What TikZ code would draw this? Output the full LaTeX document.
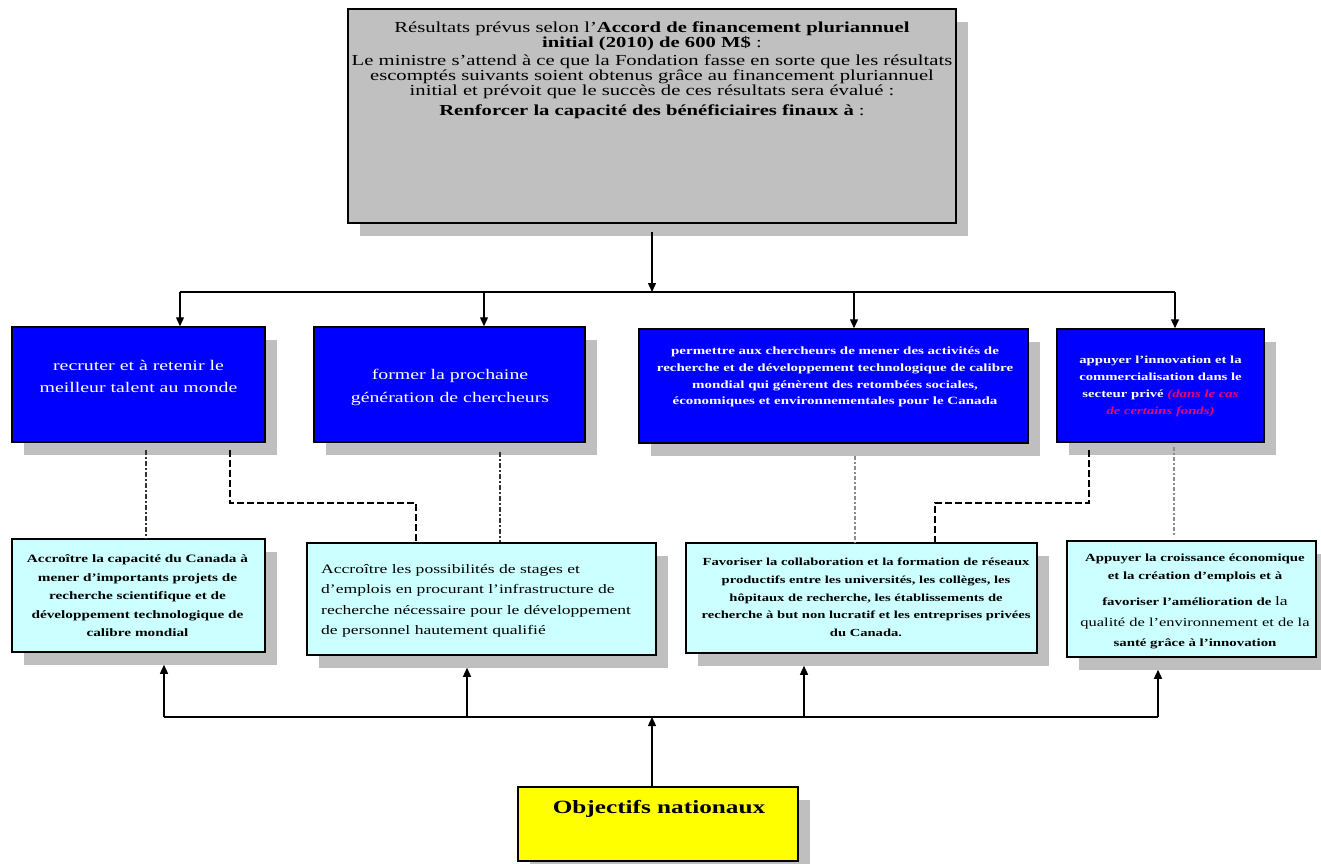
\documentclass[tikz,border=0pt]{standalone}
\usepackage{fontspec}
\setmainfont{Liberation Serif}[FakeStretch=1.35]
\usetikzlibrary{arrows.meta,shadows}
\definecolor{boxgray}{RGB}{192,192,192}
\definecolor{shgray}{RGB}{191,191,191}
\definecolor{bblue}{RGB}{0,0,255}
\definecolor{lcyan}{RGB}{204,255,255}
\definecolor{yel}{RGB}{255,255,0}
\definecolor{pinkit}{RGB}{230,0,120}
\tikzset{
  shbox/.style={draw=black, line width=1.5pt, inner sep=0pt,
    drop shadow={shadow xshift=12pt, shadow yshift=-13pt, fill=shgray, opacity=1}},
  graybox/.style={shbox, fill=boxgray, line width=2pt},
  bluebox/.style={shbox, fill=bblue},
  cyanbox/.style={shbox, fill=lcyan},
  yelbox/.style={shbox, fill=yel},
  txt/.style={inner sep=0pt, align=center},
  wtxt/.style={txt, text=white},
  arr/.style={line width=1.3pt, -{Triangle[length=9pt,width=8pt]}},
  conn/.style={line width=1.3pt},
  dashblk/.style={draw=black, line width=1.2pt, dash pattern=on 7pt off 3pt},
  dashdk/.style={draw=black!80, line width=1.2pt, dash pattern=on 5pt off 2pt on 2pt off 2pt},
  dashgr/.style={draw=black!45, line width=1.4pt, dash pattern=on 4pt off 2pt on 2pt off 2pt}
}
\begin{document}
\begin{tikzpicture}[x=1pt,y=-1pt]
\useasboundingbox[fill=white] (0,0) rectangle (1321,863);

% boxes
\node[graybox, minimum width=608pt, minimum height=214pt] (top) at (652,116) {};
\node[bluebox, minimum width=253pt, minimum height=115pt] (b1) at (138.5,384.5) {};
\node[bluebox, minimum width=271pt, minimum height=115pt] (b2) at (449.5,384.5) {};
\node[bluebox, minimum width=389pt, minimum height=114pt] (b3) at (833.5,386) {};
\node[bluebox, minimum width=207pt, minimum height=113pt] (b4) at (1160.5,385.5) {};
\node[cyanbox, minimum width=253pt, minimum height=113pt] (k1) at (138.5,595.5) {};
\node[cyanbox, minimum width=349pt, minimum height=112pt] (k2) at (481.5,599) {};
\node[cyanbox, minimum width=351pt, minimum height=110pt] (k3) at (861.5,598) {};
\node[cyanbox, minimum width=249pt, minimum height=116pt] (k4) at (1191.5,599) {};
\node[yelbox, minimum width=280pt, minimum height=74pt] (y) at (658,824) {};

% texts
\node[txt, font=\fontsize{15.3}{15}\selectfont] (toptext) at (652,70)
  {Résultats prévus selon l'\textbf{Accord de financement pluriannuel}\\
   \textbf{initial (2010) de 600 M\$} :\\[3.5pt]
   Le ministre s'attend à ce que la Fondation fasse en sorte que les résultats\\
   escomptés suivants soient obtenus grâce au financement pluriannuel\\
   initial et prévoit que le succès de ces résultats sera évalué :\\[5pt]
   \textbf{Renforcer la capacité des bénéficiaires finaux à} :};

\node[wtxt, font=\fontsize{14.7}{21.5}\selectfont] (t1) at (138.5,376.5)
  {recruter et à retenir le\\ meilleur talent au monde};
\node[wtxt, font=\fontsize{14.7}{23}\selectfont] (t2) at (450,387)
  {former la prochaine\\ génération de chercheurs};
\node[wtxt, font=\bfseries\fontsize{11.1}{16.7}\selectfont] (t3) at (835,377)
  {permettre aux chercheurs de mener des activités de\\
   recherche et de développement technologique de calibre\\
   mondial qui génèrent des retombées sociales,\\
   économiques et environnementales pour le Canada};
\node[wtxt, font=\bfseries\fontsize{10.9}{17}\selectfont] (t4) at (1160.5,386)
  {appuyer l'innovation et la\\
   commercialisation dans le\\
   secteur privé \textcolor{pinkit}{\textit{(dans le cas}}\\
   \textcolor{pinkit}{\textit{de certains fonds)}}};

\node[txt, font=\bfseries\fontsize{11.3}{18.5}\selectfont] (u1) at (137.5,596)
  {Accroître la capacité du Canada à\\
   mener d'importants projets de\\
   recherche scientifique et de\\
   développement technologique de\\
   calibre mondial};
\node[txt, align=left, anchor=west, font=\fontsize{13}{20.5}\selectfont] (u2) at (321,601)
  {Accroître les possibilités de stages et\\
   d'emplois en procurant l'infrastructure de\\
   recherche nécessaire pour le développement\\
   de personnel hautement qualifié};
\node[txt, font=\bfseries\fontsize{10.8}{17.7}\selectfont] (u3) at (866,597.5)
  {Favoriser la collaboration et la formation de réseaux\\
   productifs entre les universités, les collèges, les\\
   hôpitaux de recherche, les établissements de\\
   recherche à but non lucratif et les entreprises privées\\
   du Canada.};
\node[txt, font=\fontsize{11}{18}\selectfont] (u4) at (1195,601.5)
  {\textbf{Appuyer la croissance économique}\\
   \textbf{et la création d'emplois et à}\\[8pt]
   \textbf{favoriser l'amélioration de} {\fontsize{13}{18}\selectfont la}\\[3pt]
   {\fontsize{12.2}{18}\selectfont qualité de l'environnement et de la}\\[2pt]
   \textbf{santé grâce à l'innovation}};

\node[txt, font=\bfseries\fontsize{18.7}{22}\selectfont] (yt) at (659,809) {Objectifs nationaux};

% top connectors
\coordinate (ts) at ([yshift=-8pt]top.south);
\coordinate (c1) at (180,292);
\coordinate (c2) at (484,292);
\coordinate (c0) at (652,292);
\coordinate (c3) at (854,292);
\coordinate (c4) at (1175,292);
\draw[arr] (ts) -- (c0);
\draw[conn] (c1) -- (c4);
\draw[arr] (c1) -- (c1 |- b1.north);
\draw[arr] (c2) -- (c2 |- b2.north);
\draw[arr] (c3) -- (c3 |- b3.north);
\draw[arr] (c4) -- (c4 |- b4.north);

% dashed links
\coordinate (p1) at (146,450);
\coordinate (pa) at (230,450);
\coordinate (pa2) at (416,503);
\coordinate (p3) at (500,452);
\coordinate (p4) at (855,456);
\coordinate (pb) at (1089,450);
\coordinate (pb2) at (935,503);
\coordinate (p5) at (1174,447);
\coordinate (p5e) at (1174,537);
\draw[dashdk] (p1) -- (p1 |- k1.north);
\draw[dashblk] (pa) |- (pa2) -- (pa2 |- k2.north);
\draw[dashdk] (p3) -- (p3 |- k2.north);
\draw[dashgr] (p4) -- (p4 |- k3.north);
\draw[dashblk] (pb) |- (pb2) -- (pb2 |- k3.north);
\draw[dashgr] (p5) -- (p5e);

% bottom connectors
\coordinate (k1s) at ([yshift=-12pt]k1.south);
\coordinate (k2s) at ([yshift=-12pt]k2.south);
\coordinate (k3s) at ([yshift=-12pt]k3.south);
\coordinate (k4s) at ([yshift=-12pt]k4.south);
\coordinate (e1) at (164,717);
\coordinate (e2) at (467,717);
\coordinate (ey) at (652,717);
\coordinate (e3) at (804,717);
\coordinate (e4) at (1158,717);
\draw[conn] (e1) -- (e4);
\draw[arr] (e1) -- (e1 |- k1s);
\draw[arr] (e2) -- (e2 |- k2s);
\draw[arr] (e3) -- (e3 |- k3s);
\draw[arr] (e4) -- (e4 |- k4s);
\draw[arr] (ey |- y.north) -- (ey);
\end{tikzpicture}
\end{document}
